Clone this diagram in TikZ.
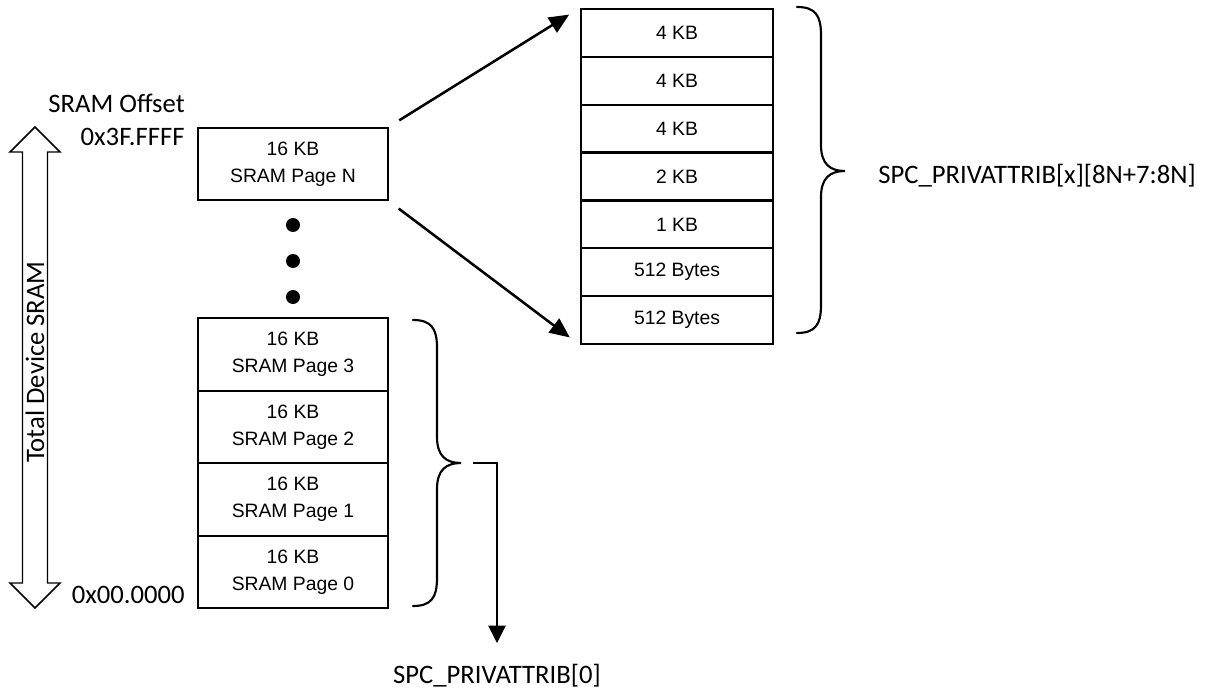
\documentclass[tikz,border=0pt]{standalone}
\usepackage{fontspec}
\setmainfont{Liberation Sans}
\newfontfamily\labelfont{Carlito}
\usetikzlibrary{arrows.meta}

\tikzset{
  pagebox/.style={draw, line width=1.6pt, minimum width=142.5pt, minimum height=54.4pt,
    inner sep=0pt, align=center, font=\fontsize{14.5}{20.5}\selectfont},
  subbox/.style={draw, line width=1.6pt, minimum width=144pt, minimum height=35.9pt,
    inner sep=0pt, align=center, font=\fontsize{14.5}{20.5}\selectfont},
  dotnode/.style={circle, fill=black, inner sep=0pt, minimum size=10.5pt},
  lbl/.style={inner sep=0pt, font=\labelfont\fontsize{20}{24}\selectfont},
  bracepath/.style={line width=1.6pt, line cap=round},
  fatarrow/.style={line width=1.9pt, -{Triangle[length=15pt,width=13pt]}},
  thinarrow/.style={line width=0.9pt, -{Triangle[length=13pt,width=13pt]}},
}

\begin{document}
\begin{tikzpicture}[x=0.75pt,y=-0.75pt]
\useasboundingbox (0,0) rectangle (1207,692);

% total SRAM range, double-headed block arrow
\draw[line width=1.1pt, line join=miter]
  (35,127) -- (60,152) -- (47.5,152) -- (47.5,583) -- (60,583) -- (35,608)
  -- (10,583) -- (22.5,583) -- (22.5,152) -- (10,152) -- cycle;
\node[lbl, rotate=90] (total) at (35,362) {Total Device SRAM};

% offset labels
\node[lbl, anchor=base east] (offs) at (185,113) {SRAM Offset};
\node[lbl, anchor=base east] (top) at (185,145) {0x3F.FFFF};
\node[lbl, anchor=base east] (bot) at (185,603) {0x00.0000};

% SRAM pages
\node[pagebox] (pN) at (293,164) {16 KB\\SRAM Page N};
\node[dotnode] (d1) at (293,225) {};
\node[dotnode] (d2) at (293,261) {};
\node[dotnode] (d3) at (293,297) {};
\node[pagebox] (p3) at (293,354.5) {16 KB\\SRAM Page 3};
\node[pagebox] (p2) at (293,427) {16 KB\\SRAM Page 2};
\node[pagebox] (p1) at (293,499.5) {16 KB\\SRAM Page 1};
\node[pagebox] (p0) at (293,572) {16 KB\\SRAM Page 0};

% sub-regions of page N
\node[subbox] (r1) at (677,32.9) {4 KB};
\node[subbox] (r2) at (677,80.8) {4 KB};
\node[subbox] (r3) at (677,128.6) {4 KB};
\node[subbox] (r4) at (677,176.5) {2 KB};
\node[subbox] (r5) at (677,224.4) {1 KB};
\node[subbox] (r6) at (677,272.2) {512 Bytes};
\node[subbox] (r7) at (677,320.1) {512 Bytes};

% expansion arrows
\draw[fatarrow, shorten <=9pt, shorten >=9.5pt] (pN.north east) -- (r1.north west);
\draw[fatarrow, shorten <=9pt, shorten >=9.5pt] (pN.south east) -- (r7.south west);

% brace over the sub-regions
\draw[bracepath] (797,7) .. controls (815,7) and (821,15) .. (821,35) -- (821,145)
  .. controls (821,164) and (830,171) .. (845,171)
  .. controls (830,171) and (821,178) .. (821,197) -- (821,305)
  .. controls (821,325) and (815,333) .. (797,333);
\node[lbl, anchor=base west] (attrx) at (878,183) {SPC\_PRIVATTRIB[x][8N+7:8N]};

% brace over pages 0 to 3
\draw[bracepath] (413,320) .. controls (431,320) and (437,328) .. (437,348) -- (437,437)
  .. controls (437,456) and (446,463) .. (461,463)
  .. controls (446,463) and (437,470) .. (437,489) -- (437,578)
  .. controls (437,598) and (431,606) .. (413,606);
\coordinate (lbout) at (473,463);
\coordinate (attr0top) at (497,643);
\draw[thinarrow] (lbout) -| (attr0top);
\node[lbl, anchor=base] (attr0) at (497,683) {SPC\_PRIVATTRIB[0]};
\end{tikzpicture}
\end{document}
